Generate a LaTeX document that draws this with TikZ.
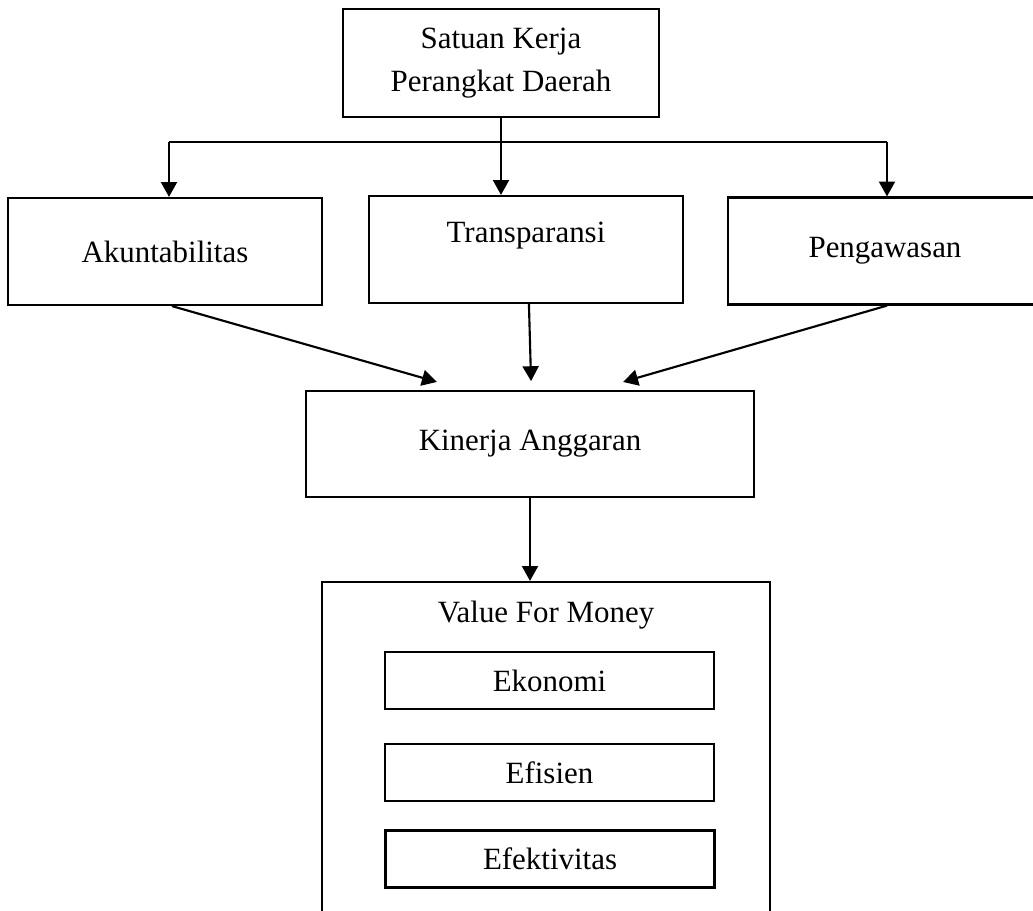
\documentclass[tikz,border=0pt]{standalone}
\usepackage{fontspec}
\setmainfont{Liberation Serif}
\usetikzlibrary{arrows.meta}

\tikzset{
  box/.style={draw, line width=0.8pt, inner sep=0pt, minimum width=314*0.375pt, minimum height=107*0.375pt},
  subbox/.style={draw, line width=0.8pt, inner sep=0pt, minimum width=329*0.375pt, minimum height=57*0.375pt},
  arr/.style={-{Triangle[length=5.6pt, width=6pt]}, line width=0.8pt},
  line/.style={line width=0.8pt}
}

\begin{document}
\begin{tikzpicture}[x=0.375pt, y=-0.375pt, font=\fontsize{11.6}{16}\selectfont]
        \useasboundingbox (0,0) rectangle (1033,911);

        % Top unit
        \node[box, minimum width=316*0.375pt, minimum height=108*0.375pt, align=center] (satker) at (501,63) {Satuan Kerja\\Perangkat Daerah};

        % Three pillars
        \node[box] (akun) at (165,251.5) {Akuntabilitas};
        \node[box] (trans) at (526,249.5) {};
        \node (transtxt) at (526,236) {Transparansi};
        \node[box] (awas) at (885,251) {Pengawasan};

        % Budget performance
        \node[box, minimum width=448*0.375pt, minimum height=106*0.375pt] (kinerja) at (530,444) {Kinerja Anggaran};

        % Value for money
        \node[box, minimum width=448*0.375pt, minimum height=378*0.375pt] (vfm) at (546,771) {};
        \node (vfmtxt) at (546,615) {Value For Money};
        \node[subbox] (eko) at (549.5,680.5) {Ekonomi};
        \node[subbox] (efi) at (549.5,772.5) {Efisien};
        \node[subbox] (efek) at (550,859) {Efektivitas};

        % Branch line
        \coordinate (busL) at (169,142);
        \coordinate (busR) at (887,142);
        \draw[line] (busL) -- (busR);
        \draw[arr] (busL) -- (busL |- akun.north);
        \draw[arr] (satker.south) -- (satker.south |- trans.north);
        \draw[arr] (busR) -- (busR |- awas.north);

        % Arrows to performance
        \draw[arr] ([xshift=2.6pt]akun.south) -- ([xshift=-34.9pt, yshift=3pt]kinerja.north);
        \draw[arr] ([xshift=1.1pt]trans.south) -- ([xshift=0.4pt, yshift=3.3pt]kinerja.north);
        \draw[arr] ([xshift=0.8pt]awas.south) -- ([xshift=34.9pt, yshift=3pt]kinerja.north);
        \draw[arr] (kinerja.south) -- (kinerja.south |- vfm.north);
    \end{tikzpicture}
\end{document}
